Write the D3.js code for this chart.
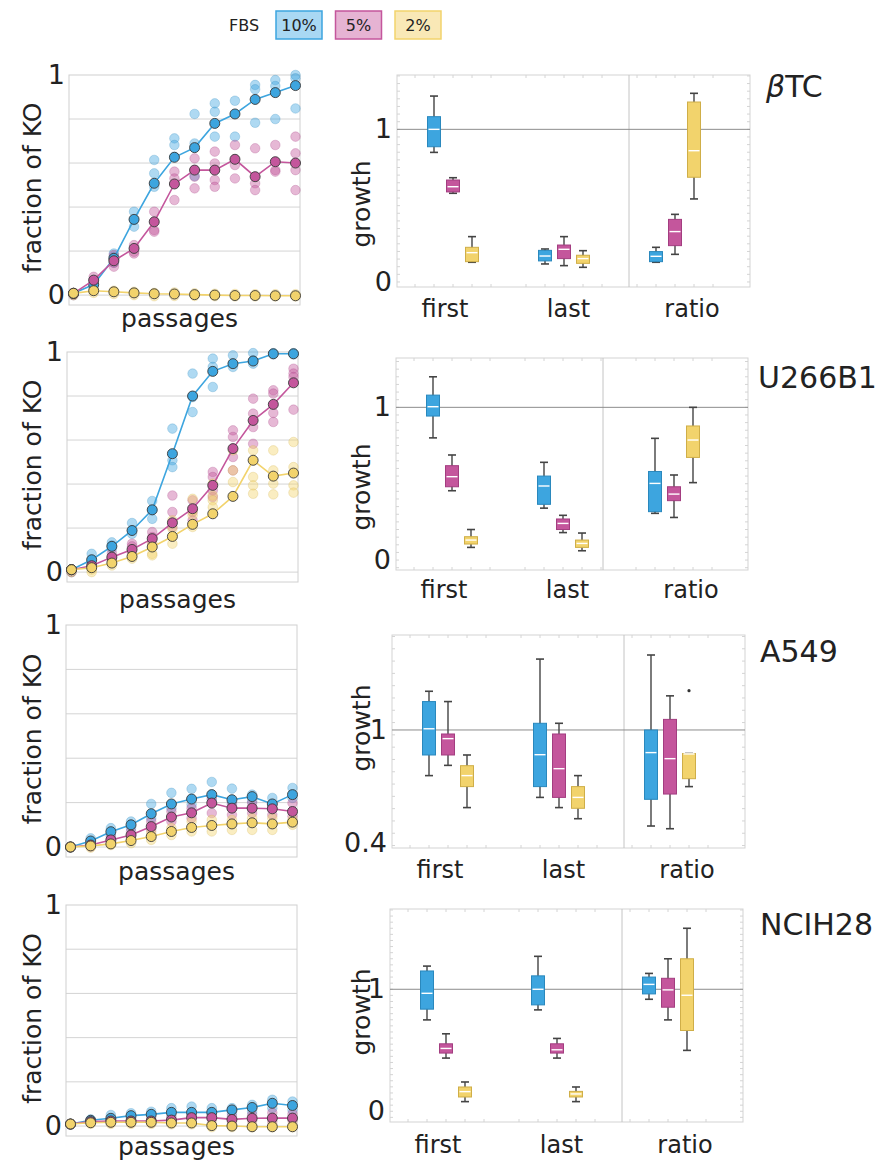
<!DOCTYPE html>
<html>
<head>
<meta charset="utf-8">
<script src="https://cdn.jsdelivr.net/npm/d3@7"></script>
<style>
  body { margin: 0; background: #fff; }
  svg text { font-family: 'DejaVu Sans', sans-serif; fill: #222; }
</style>
</head>
<body>
<svg id="fig" width="878" height="1167"></svg>
<script>

var passages = [0, 1, 2, 3, 4, 5, 6, 7, 8, 9, 10, 11];
var fbsLevels = ['10%', '5%', '2%'];
var boxGroups = ['first', 'last', 'ratio'];
var cellLines = ['βTC', 'U266B1', 'A549', 'NCIH28'];

// mean fraction of KO per passage, one list per FBS level (10%, 5%, 2%)
var btcMean = [
  [0.008, 0.048, 0.167, 0.344, 0.508, 0.626, 0.670, 0.780, 0.823, 0.889, 0.920, 0.952],
  [0.008, 0.068, 0.156, 0.212, 0.333, 0.505, 0.568, 0.568, 0.617, 0.538, 0.606, 0.600],
  [0.008, 0.020, 0.015, 0.010, 0.006, 0.005, 0.002, 0.000, -0.002, -0.002, -0.003, -0.003]
];
var btcReps = [
  [[0.0, 0.01], [0.068, 0.038], [0.189, 0.174, 0.147], [0.379, 0.341, 0.311], [0.614, 0.553, 0.492], [0.712, 0.682, 0.629],
   [0.823, 0.689, 0.541], [0.871, 0.833, 0.72], [0.883, 0.720], [0.955, 0.935, 0.783], [0.977, 0.95, 0.80], [1.0, 0.985, 0.848]],
  [[0.0, 0.01], [0.083, 0.053], [0.182, 0.147, 0.129], [0.227, 0.197, 0.189], [0.379, 0.295, 0.288], [0.561, 0.530, 0.432],
   [0.621, 0.538, 0.485], [0.652, 0.598, 0.523, 0.492], [0.682, 0.591, 0.530], [0.667, 0.508, 0.477], [0.682, 0.568, 0.561], [0.720, 0.644, 0.568, 0.477]],
  [[0.0, 0.01], [0.03, 0.01], [0.02, 0.005], [0.015, 0.0], [0.01, -0.005], [0.012, -0.004],
   [0.008, -0.004], [0.006, -0.005], [0.005, -0.006], [0.004, -0.006], [0.004, -0.006], [0.004, -0.006]]
];
// box stats [min, q1, median, q3, max]; rows = first, last, ratio; cols = 10%, 5%, 2%
var btcBox = [
  [[0.849, 0.886, 1.0, 1.083, 1.218], [0.581, 0.590, 0.624, 0.668, 0.683], [0.129, 0.133, 0.192, 0.227, 0.297]],
  [[0.118, 0.138, 0.170, 0.207, 0.216], [0.107, 0.153, 0.214, 0.242, 0.297], [0.096, 0.122, 0.153, 0.175, 0.205]],
  [[0.129, 0.133, 0.168, 0.199, 0.227], [0.181, 0.238, 0.330, 0.410, 0.443], [0.544, 0.686, 0.860, 1.179, 1.236]]
];

var u266Mean = [
  [0.011, 0.056, 0.117, 0.189, 0.283, 0.538, 0.800, 0.912, 0.947, 0.959, 0.992, 0.992],
  [0.011, 0.029, 0.068, 0.103, 0.152, 0.224, 0.288, 0.394, 0.561, 0.689, 0.762, 0.860],
  [0.011, 0.020, 0.041, 0.071, 0.114, 0.162, 0.217, 0.265, 0.344, 0.508, 0.436, 0.450]
];
var u266Reps = [
  [[0.0, 0.011], [0.083, 0.056, 0.045], [0.135, 0.121, 0.106], [0.223, 0.189, 0.174], [0.323, 0.280, 0.242], [0.652, 0.508, 0.477],
   [0.902, 0.795, 0.727], [0.970, 0.932, 0.841], [0.985, 0.947, 0.932], [0.995, 0.962, 0.947], [0.995, 0.989], [0.995, 0.989]],
  [[0.0, 0.011], [0.038, 0.020], [0.086, 0.061, 0.053], [0.129, 0.117, 0.086], [0.182, 0.159, 0.129], [0.348, 0.273, 0.205],
   [0.326, 0.273, 0.235], [0.455, 0.432, 0.371, 0.341], [0.644, 0.614, 0.523, 0.462], [0.788, 0.720, 0.659, 0.583], [0.826, 0.811, 0.723, 0.682], [0.924, 0.902, 0.886, 0.738]],
  [[0.0, 0.011], [0.011, 0.0], [0.053, 0.030], [0.098, 0.071, 0.061], [0.129, 0.083, 0.076], [0.235, 0.197, 0.129],
   [0.333, 0.280, 0.258, 0.205], [0.402, 0.348, 0.326, 0.295], [0.553, 0.462, 0.409], [0.553, 0.432, 0.394, 0.356], [0.553, 0.462, 0.402, 0.353], [0.591, 0.477, 0.394, 0.361]]
];
var u266Box = [
  [[0.80, 0.943, 1.004, 1.08, 1.20], [0.454, 0.48, 0.546, 0.618, 0.688], [0.083, 0.105, 0.131, 0.153, 0.20]],
  [[0.34, 0.365, 0.485, 0.55, 0.64], [0.18, 0.20, 0.24, 0.269, 0.293], [0.061, 0.083, 0.109, 0.131, 0.177]],
  [[0.306, 0.317, 0.502, 0.58, 0.797], [0.279, 0.389, 0.432, 0.48, 0.557], [0.507, 0.672, 0.786, 0.878, 1.0]]
];

var a549Mean = [
  [0, 0.027, 0.069, 0.100, 0.150, 0.194, 0.216, 0.236, 0.213, 0.227, 0.194, 0.236],
  [0, 0.009, 0.032, 0.054, 0.092, 0.135, 0.154, 0.198, 0.175, 0.175, 0.172, 0.160],
  [0, 0.005, 0.014, 0.029, 0.047, 0.070, 0.088, 0.097, 0.104, 0.109, 0.104, 0.112]
];
var a549Reps = [
  [[0.0], [0.039, 0.017], [0.085, 0.054], [0.115, 0.085], [0.194, 0.130], [0.244, 0.175],
   [0.262, 0.191], [0.293, 0.213], [0.263, 0.198], [0.236, 0.206], [0.221, 0.175], [0.266, 0.221]],
  [[0.0], [0.017, 0.002], [0.047, 0.024], [0.070, 0.039], [0.115, 0.077], [0.160, 0.115],
   [0.175, 0.130], [0.221, 0.153], [0.191, 0.145], [0.198, 0.153], [0.191, 0.145], [0.198, 0.138]],
  [[0.0], [0.009, -0.003], [0.024, 0.009], [0.039, 0.017], [0.062, 0.032], [0.085, 0.054],
   [0.115, 0.070], [0.122, 0.070], [0.122, 0.077], [0.130, 0.077], [0.130, 0.077], [0.122, 0.100]]
];
var a549Box = [
  [[0.69, 0.816, 1.01, 1.26, 1.37], [0.75, 0.816, 0.932, 0.968, 1.26], [0.532, 0.631, 0.69, 0.748, 0.816]],
  [[0.578, 0.631, 0.818, 1.056, 1.78], [0.532, 0.578, 0.73, 0.968, 1.056], [0.486, 0.529, 0.578, 0.631, 0.69]],
  [[0.458, 0.569, 0.832, 1.0, 1.84], [0.448, 0.594, 0.792, 1.09, 1.32], [0.631, 0.673, 0.823, 0.826, 0.826]]
];
var a549Outliers = [{ group: 'ratio', fbs: '2%', value: 1.377 }];

var nciMean = [
  [0.009, 0.026, 0.035, 0.047, 0.053, 0.062, 0.062, 0.062, 0.073, 0.084, 0.103, 0.093],
  [0.009, 0.020, 0.023, 0.023, 0.023, 0.027, 0.038, 0.038, 0.030, 0.035, 0.036, 0.036],
  [0.009, 0.015, 0.017, 0.017, 0.017, 0.014, 0.014, 0.002, 0.000, -0.003, -0.003, -0.003]
];
var nciReps = [
  [[0.009], [0.03, 0.02], [0.05, 0.02], [0.058, 0.035], [0.065, 0.043], [0.081, 0.05],
   [0.088, 0.05], [0.081, 0.058], [0.081, 0.058], [0.096, 0.065], [0.119, 0.081], [0.111, 0.073]],
  [[0.009], [0.025, 0.015], [0.03, 0.015], [0.03, 0.015], [0.032, 0.015], [0.04, 0.02],
   [0.05, 0.03], [0.05, 0.03], [0.045, 0.02], [0.05, 0.025], [0.06, 0.02], [0.055, 0.025]],
  [[0.009], [0.022, 0.01], [0.024, 0.01], [0.024, 0.01], [0.024, 0.01], [0.02, 0.008],
   [0.02, 0.008], [0.008, -0.005], [0.006, -0.005], [0.004, -0.006], [0.004, -0.006], [0.004, -0.006]]
];
var nciBox = [
  [[0.749, 0.837, 0.967, 1.15, 1.19], [0.436, 0.477, 0.515, 0.553, 0.635], [0.079, 0.117, 0.161, 0.199, 0.24]],
  [[0.831, 0.872, 1.0, 1.11, 1.27], [0.436, 0.477, 0.504, 0.553, 0.597], [0.079, 0.117, 0.142, 0.163, 0.199]],
  [[0.918, 0.962, 1.04, 1.10, 1.13], [0.749, 0.853, 0.995, 1.09, 1.25], [0.499, 0.662, 0.951, 1.25, 1.5]]
];

// colours
var fill = d3.scaleOrdinal().domain(fbsLevels).range(['#3da5df', '#c4569c', '#f2d36c']);
var edge = d3.scaleOrdinal().domain(fbsLevels).range(['#2a88bd', '#a33d80', '#cfae48']);
var light = d3.scaleOrdinal().domain(fbsLevels).range(['#a9d8f3', '#e6b3d3', '#f9e8b6']);

// layout of each row
var rows = [
  { mean: btcMean, reps: btcReps, box: btcBox, outliers: [],
    nameX: 766, nameY: 97,
    left: { x0: 69, x1: 300, top: 75, bottom: 305, labY: 327 },
    right: { x0: 397, x1: 750, top: 75, bottom: 287, sep: 629, log: false, domain: [-0.033, 1.356], ticks: [0, 1], labY: 204, catY: 317 } },
  { mean: u266Mean, reps: u266Reps, box: u266Box, outliers: [],
    nameX: 758, nameY: 388,
    left: { x0: 67, x1: 298, top: 352, bottom: 582, labY: 608 },
    right: { x0: 396, x1: 748, top: 358, bottom: 570, sep: 603, log: false, domain: [-0.065, 1.323], ticks: [0, 1], labY: 487, catY: 598 } },
  { mean: a549Mean, reps: a549Reps, box: a549Box, outliers: a549Outliers,
    nameX: 760, nameY: 662,
    left: { x0: 66, x1: 297, top: 625, bottom: 857, labY: 880 },
    right: { x0: 392, x1: 745, top: 635, bottom: 848, sep: 624, log: true, domain: [0.383, 2.165], ticks: [0.4, 1], labY: 728, catY: 878 } },
  { mean: nciMean, reps: nciReps, box: nciBox, outliers: [],
    nameX: 760, nameY: 935,
    left: { x0: 66, x1: 297, top: 905, bottom: 1136, labY: 1155 },
    right: { x0: 390, x1: 743, top: 909, bottom: 1122, sep: 622, log: false, domain: [-0.088, 1.658], ticks: [0, 1], labY: 1012, catY: 1153 } }
];

var svg = d3.select('#fig');

function drawLegend() {
  var g = svg.append('g').attr('class', 'legend');
  g.append('text')
    .attr('x', 229).attr('y', 31)
    .attr('font-size', 16)
    .text('FBS');

  var lx = d3.scalePoint().domain(fbsLevels).range([299, 418]);
  var items = g.selectAll('.item').data(fbsLevels).enter().append('g').attr('class', 'item');
  items.append('rect')
    .attr('x', function (d) { return lx(d) - 23; })
    .attr('y', 11)
    .attr('width', 46)
    .attr('height', 28)
    .attr('fill', function (d) { return light(d); })
    .attr('stroke', function (d) { return fill(d); })
    .attr('stroke-width', 1.5);
  items.append('text')
    .attr('x', function (d) { return lx(d); })
    .attr('y', 31)
    .attr('text-anchor', 'middle')
    .attr('font-size', 16)
    .text(function (d) { return d; });
}

function drawLeft(row) {
  var L = row.left;
  var g = svg.append('g');

  var x = d3.scaleLinear()
    .domain([passages[0], passages[passages.length - 1]])
    .range([L.x0 + 4.5, L.x1 - 4.5]);
  var y = d3.scaleLinear().domain([-0.045, 1]).range([L.bottom, L.top]);

  g.selectAll('.grid').data([0, 0.2, 0.4, 0.6, 0.8]).enter().append('line')
    .attr('x1', L.x0).attr('x2', L.x1)
    .attr('y1', function (d) { return y(d); })
    .attr('y2', function (d) { return y(d); })
    .attr('stroke', '#d4d4d4');

  g.append('rect')
    .attr('x', L.x0).attr('y', L.top)
    .attr('width', L.x1 - L.x0).attr('height', L.bottom - L.top)
    .attr('fill', 'none').attr('stroke', '#d0d0d0');

  // replicate points
  fbsLevels.forEach(function (f, i) {
    var pts = [];
    row.reps[i].forEach(function (vals, p) {
      vals.forEach(function (v) { pts.push({ p: passages[p], v: v }); });
    });
    g.selectAll('.rep' + i).data(pts).enter().append('circle')
      .attr('cx', function (d) { return x(d.p); })
      .attr('cy', function (d) { return y(d.v); })
      .attr('r', 4.8)
      .attr('fill', fill(f))
      .attr('fill-opacity', 0.42)
      .attr('stroke', edge(f))
      .attr('stroke-opacity', 0.25);
  });

  var line = d3.line()
    .x(function (d, i) { return x(passages[i]); })
    .y(function (d) { return y(d); });

  fbsLevels.forEach(function (f, i) {
    g.append('path')
      .datum(row.mean[i])
      .attr('d', line)
      .attr('fill', 'none')
      .attr('stroke', fill(f))
      .attr('stroke-width', 1.6);
    g.selectAll('.mean' + i).data(row.mean[i]).enter().append('circle')
      .attr('cx', function (d, j) { return x(passages[j]); })
      .attr('cy', function (d) { return y(d); })
      .attr('r', 5)
      .attr('fill', fill(f))
      .attr('stroke', '#3a3a3a')
      .attr('stroke-width', 0.9);
  });

  var ax = g.append('g')
    .attr('transform', 'translate(' + L.x0 + ',0)')
    .call(d3.axisLeft(y).tickValues([0, 1]).tickSize(0).tickPadding(4).tickFormat(d3.format('d')));
  ax.select('.domain').remove();
  ax.selectAll('text').attr('font-size', 27).attr('font-family', "'DejaVu Sans', sans-serif").attr('fill', '#222');

  g.append('text')
    .attr('transform', 'translate(41,' + ((L.top + L.bottom) / 2 - 2) + ') rotate(-90)')
    .attr('text-anchor', 'middle')
    .attr('font-size', 25)
    .text('fraction of KO');

  g.append('text')
    .attr('x', (L.x0 + L.x1) / 2 - 5)
    .attr('y', L.labY)
    .attr('text-anchor', 'middle')
    .attr('font-size', 25)
    .text('passages');
}

function drawRight(row) {
  var R = row.right;
  var g = svg.append('g');

  var y = (R.log ? d3.scaleLog() : d3.scaleLinear()).domain(R.domain).range([R.bottom, R.top]);
  var xg = d3.scalePoint().domain(boxGroups).range([R.x0 + 56, R.x0 + 278]);
  var xf = d3.scalePoint().domain(fbsLevels).range([-19, 19]);
  var catX = d3.scalePoint().domain(boxGroups).range([R.x0 + 48, R.x0 + 295]);
  var bw = 13;

  // minor ticks on the frame
  var minor;
  if (R.log) {
    minor = d3.range(Math.log(R.domain[0]) + 0.02, Math.log(R.domain[1]), 0.1).map(Math.exp);
  } else {
    minor = y.ticks(28);
  }
  g.selectAll('.ytick').data(minor).enter().append('path')
    .attr('d', function (d) {
      var yy = y(d);
      return 'M' + R.x0 + ',' + yy + 'h3M' + R.x1 + ',' + yy + 'h-3';
    })
    .attr('stroke', '#d4d4d4');

  var xt = [];
  boxGroups.forEach(function (gr) {
    [-2, -1, 0, 1, 2].forEach(function (k) { xt.push(xg(gr) + k * 19); });
  });
  g.selectAll('.xtick').data(xt).enter().append('path')
    .attr('d', function (d) { return 'M' + d + ',' + R.bottom + 'v-3M' + d + ',' + R.top + 'v3'; })
    .attr('stroke', '#d4d4d4');

  g.append('rect')
    .attr('x', R.x0).attr('y', R.top)
    .attr('width', R.x1 - R.x0).attr('height', R.bottom - R.top)
    .attr('fill', 'none').attr('stroke', '#d3d3d3');

  g.append('line')
    .attr('x1', R.sep).attr('x2', R.sep)
    .attr('y1', R.top).attr('y2', R.bottom)
    .attr('stroke', '#c4c4c4');

  g.append('line')
    .attr('x1', R.x0).attr('x2', R.x1)
    .attr('y1', y(1)).attr('y2', y(1))
    .attr('stroke', '#8c8c8c');

  boxGroups.forEach(function (gr, gi) {
    fbsLevels.forEach(function (f, fi) {
      var s = row.box[gi][fi];
      var cx = xg(gr) + xf(f);
      var b = g.append('g');
      b.append('line')
        .attr('x1', cx).attr('x2', cx)
        .attr('y1', y(s[0])).attr('y2', y(s[4]))
        .attr('stroke', '#444').attr('stroke-width', 1.4);
      b.selectAll('.cap').data([s[0], s[4]]).enter().append('line')
        .attr('x1', cx - 4).attr('x2', cx + 4)
        .attr('y1', function (d) { return y(d); })
        .attr('y2', function (d) { return y(d); })
        .attr('stroke', '#444').attr('stroke-width', 1.6);
      b.append('rect')
        .attr('x', cx - bw / 2).attr('y', y(s[3]))
        .attr('width', bw).attr('height', y(s[1]) - y(s[3]))
        .attr('fill', fill(f))
        .attr('stroke', edge(f)).attr('stroke-width', 1);
      b.append('line')
        .attr('x1', cx - bw / 2 + 1).attr('x2', cx + bw / 2 - 1)
        .attr('y1', y(s[2])).attr('y2', y(s[2]))
        .attr('stroke', '#fff').attr('stroke-width', 1.4);
    });
  });

  g.selectAll('.outlier').data(row.outliers).enter().append('circle')
    .attr('cx', function (d) { return xg(d.group) + xf(d.fbs); })
    .attr('cy', function (d) { return y(d.value); })
    .attr('r', 1.6)
    .attr('fill', '#333');

  var ax = g.append('g')
    .attr('transform', 'translate(' + R.x0 + ',0)')
    .call(d3.axisLeft(y).tickValues(R.ticks).tickSize(0).tickPadding(5).tickFormat(d3.format('')));
  ax.select('.domain').remove();
  ax.selectAll('text').attr('font-size', 27).attr('font-family', "'DejaVu Sans', sans-serif").attr('fill', '#222');

  g.append('text')
    .attr('transform', 'translate(370,' + R.labY + ') rotate(-90)')
    .attr('text-anchor', 'middle')
    .attr('font-size', 25)
    .text('growth');

  g.selectAll('.cat').data(boxGroups).enter().append('text')
    .attr('x', function (d) { return catX(d); })
    .attr('y', R.catY)
    .attr('text-anchor', 'middle')
    .attr('font-size', 24)
    .text(function (d) { return d; });
}

drawLegend();
rows.forEach(function (row, i) {
  drawLeft(row);
  drawRight(row);
  var t = svg.append('text')
    .attr('x', row.nameX)
    .attr('y', row.nameY)
    .attr('font-size', 30);
  if (cellLines[i].charAt(0) === 'β') {
    t.append('tspan').attr('font-style', 'italic').text('β');
    t.append('tspan').text(cellLines[i].slice(1));
  } else {
    t.text(cellLines[i]);
  }
});

</script>
</body>
</html>
